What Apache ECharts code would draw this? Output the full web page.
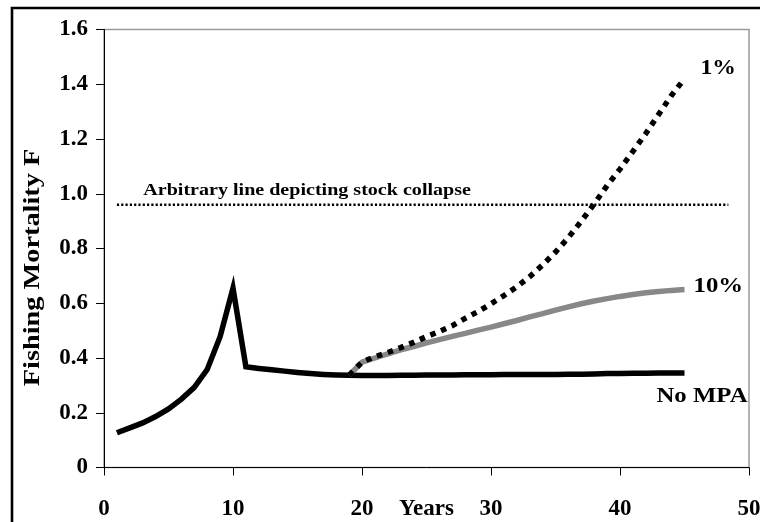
<!DOCTYPE html>
<html>
<head>
<meta charset="utf-8">
<title>Fishing Mortality F</title>
<script src="https://cdn.jsdelivr.net/npm/echarts@6/dist/echarts.min.js"></script>
<style>
  html, body { margin: 0; padding: 0; background: #ffffff; }
  #chart { width: 760px; height: 522px; }
</style>
</head>
<body>
<div id="chart"></div>
<script>
// Years 1..45 for the baseline (no marine protected area) trajectory
const years = [1, 2, 3, 4, 5, 6, 7, 8, 9, 10, 11, 12, 13, 14, 15, 16, 17, 18, 19, 20,
  21, 22, 23, 24, 25, 26, 27, 28, 29, 30, 31, 32, 33, 34, 35, 36, 37, 38, 39, 40,
  41, 42, 43, 44, 45];
const noMpa = [0.127, 0.145, 0.163, 0.186, 0.214, 0.25, 0.293, 0.358, 0.478, 0.655,
  0.368, 0.362, 0.357, 0.352, 0.347, 0.343, 0.340, 0.338, 0.337, 0.336,
  0.336, 0.336, 0.337, 0.337, 0.338, 0.338, 0.338, 0.339, 0.339, 0.339,
  0.340, 0.340, 0.340, 0.340, 0.340, 0.341, 0.341, 0.342, 0.343, 0.343,
  0.344, 0.344, 0.345, 0.345, 0.345];

// MPA scenarios start at year 19
const mpaYears = [19, 20, 21, 22, 23, 24, 25, 26, 27, 28, 29, 30, 31, 32, 33, 34, 35,
  36, 37, 38, 39, 40, 41, 42, 43, 44, 45];
const mpa10 = [0.337, 0.385, 0.400, 0.415, 0.430, 0.442, 0.455, 0.467, 0.479, 0.490,
  0.502, 0.513, 0.525, 0.537, 0.550, 0.562, 0.575, 0.587, 0.598, 0.608,
  0.617, 0.625, 0.632, 0.638, 0.643, 0.647, 0.650];
const mpa1 = [0.337, 0.385, 0.405, 0.420, 0.438, 0.457, 0.478, 0.497, 0.518, 0.545,
  0.570, 0.598, 0.628, 0.660, 0.697, 0.740, 0.787, 0.840, 0.900, 0.963,
  1.030, 1.090, 1.155, 1.220, 1.290, 1.360, 1.420];

// Reference level for stock collapse
const collapseLevel = 0.96;
const collapseSpan = [1, 48.4];

// Axis ranges
const xRange = [0, 50, 10];
const yRange = [0, 1.6, 0.2];

const labels = {
  collapse: 'Arbitrary line depicting stock collapse',
  mpa1: '1%',
  mpa10: '10%',
  noMpa: 'No MPA',
  yTitle: 'Fishing Mortality F',
  xTitle: 'Years'
};

const FONT = '"Liberation Serif", "Times New Roman", serif';
const pairs = (xs, ys) => xs.map((x, i) => [x, ys[i]]);

const chart = echarts.init(document.getElementById('chart'), null, { renderer: 'canvas' });

const axisText = { color: '#000', fontFamily: FONT, fontWeight: 'bold', fontSize: 23 };

chart.setOption({
  animation: false,
  backgroundColor: '#ffffff',
  grid: {
    left: 104, right: 11, top: 29.5, bottom: 54.5,
    outerBoundsMode: 'none', containLabel: false,
    show: true, borderColor: '#9a9a9a', borderWidth: 1.5, backgroundColor: 'transparent'
  },
  xAxis: {
    type: 'value', min: xRange[0], max: xRange[1], interval: xRange[2],
    name: labels.xTitle, nameLocation: 'middle', nameGap: 30, nameMoveOverlap: false,
    nameTextStyle: Object.assign({ verticalAlign: 'top' }, axisText),
    axisLine: { show: true, onZero: false, lineStyle: { color: '#000', width: 1 } },
    axisTick: { show: true, inside: false, length: 8, lineStyle: { color: '#000', width: 1 } },
    axisLabel: Object.assign({ margin: 30, hideOverlap: false }, axisText),
    splitLine: { show: false }
  },
  yAxis: {
    type: 'value', min: yRange[0], max: yRange[1], interval: yRange[2],
    axisLine: { show: true, onZero: false, lineStyle: { color: '#000', width: 1 } },
    axisTick: { show: true, inside: false, length: 8, lineStyle: { color: '#000', width: 1 } },
    axisLabel: Object.assign({
      margin: 16,
      formatter: v => (v === 0 ? '0' : v.toFixed(1))
    }, axisText),
    splitLine: { show: false }
  },
  series: [
    {
      name: labels.collapse, type: 'line', data: pairs(collapseSpan, [collapseLevel, collapseLevel]),
      showSymbol: false, symbol: 'none',
      lineStyle: { color: '#000', width: 2.5, type: [2.2, 2.1], cap: 'butt' }, z: 2
    },
    {
      name: labels.noMpa, type: 'line', data: pairs(years, noMpa),
      showSymbol: false, symbol: 'none',
      lineStyle: { color: '#000', width: 5.5, join: 'miter' }, z: 3
    },
    {
      name: labels.mpa10, type: 'line', data: pairs(mpaYears, mpa10),
      showSymbol: false, symbol: 'none',
      lineStyle: { color: '#888888', width: 5.5 }, z: 4
    },
    {
      name: labels.mpa1, type: 'line', data: pairs(mpaYears, mpa1),
      showSymbol: false, symbol: 'none',
      lineStyle: { color: '#000', width: 5.5, type: [5.5, 6], cap: 'butt' }, z: 5
    }
  ]
});

// Text annotations anchored to data points of each series
function at(x, y) { return chart.convertToPixel({ gridIndex: 0 }, [x, y]); }
function note(text, pt, dx, dy, size, align) {
  return {
    type: 'text', x: pt[0] + dx, y: pt[1] + dy, scaleX: 1.18, z: 20,
    style: {
      text: text, fill: '#000', font: 'bold ' + size + 'px ' + FONT,
      align: align, verticalAlign: 'middle'
    }
  };
}
const last = arr => arr[arr.length - 1];
const lastYear = last(mpaYears);

chart.setOption({
  graphic: [
    // outer frame around the figure
    {
      type: 'rect', shape: { x: 12, y: 8, width: 820, height: 620 }, z: 30,
      style: { fill: 'none', stroke: '#000', lineWidth: 2.6 }, silent: true
    },
    note(labels.collapse, at(collapseSpan[0], collapseLevel), 26.4, -14, 17, 'left'),
    note(labels.mpa1, at(lastYear, last(mpa1)), 16, -10, 20, 'left'),
    note(labels.mpa10, at(lastYear, last(mpa10)), 9, -2.5, 21, 'left'),
    note(labels.noMpa, at(last(years), last(noMpa)), 17.5, 23.5, 21, 'center'),
    {
      type: 'text', x: 32.5, y: 267.5, rotation: Math.PI / 2, scaleX: 1.18, z: 20,
      style: {
        text: labels.yTitle, fill: '#000', font: 'bold 24px ' + FONT,
        align: 'center', verticalAlign: 'middle'
      }
    }
  ]
});
</script>
</body>
</html>
